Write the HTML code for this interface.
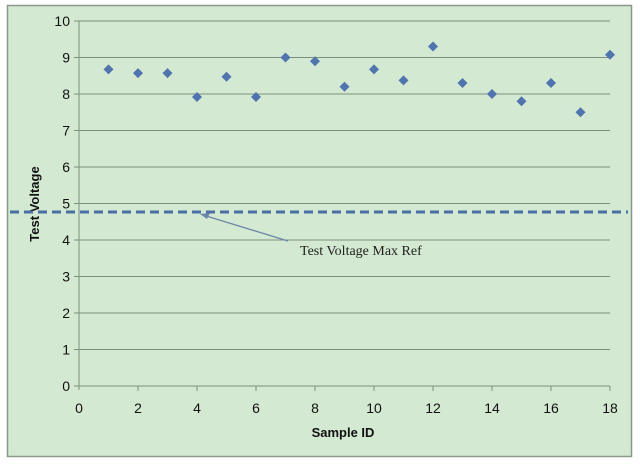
<!DOCTYPE html>
<html><head><style>body{margin:0;background:#fff}</style></head><body>
<svg width="640" height="465" xmlns="http://www.w3.org/2000/svg" font-family="Liberation Sans, sans-serif">
<rect x="0" y="0" width="640" height="465" fill="#fff"/>
<rect x="7.5" y="5.5" width="624" height="451" fill="#d3e9d1" stroke="#8a9a8a" stroke-width="1.5"/>
<g stroke="#7f8f7f" stroke-width="1">
<line x1="79" y1="21" x2="610" y2="21"/><line x1="79" y1="57.5" x2="610" y2="57.5"/><line x1="79" y1="94" x2="610" y2="94"/>
<line x1="79" y1="130.5" x2="610" y2="130.5"/><line x1="79" y1="167" x2="610" y2="167"/><line x1="79" y1="203.5" x2="610" y2="203.5"/>
<line x1="79" y1="240" x2="610" y2="240"/><line x1="79" y1="276.5" x2="610" y2="276.5"/><line x1="79" y1="313" x2="610" y2="313"/>
<line x1="79" y1="349.5" x2="610" y2="349.5"/><line x1="79" y1="386" x2="610" y2="386"/>
<line x1="79" y1="21" x2="79" y2="390"/>
<line x1="74" y1="21" x2="79" y2="21"/><line x1="74" y1="57.5" x2="79" y2="57.5"/><line x1="74" y1="94" x2="79" y2="94"/><line x1="74" y1="130.5" x2="79" y2="130.5"/><line x1="74" y1="167" x2="79" y2="167"/><line x1="74" y1="203.5" x2="79" y2="203.5"/><line x1="74" y1="240" x2="79" y2="240"/><line x1="74" y1="276.5" x2="79" y2="276.5"/><line x1="74" y1="313" x2="79" y2="313"/><line x1="74" y1="349.5" x2="79" y2="349.5"/><line x1="74" y1="386" x2="79" y2="386"/>
<line x1="138" y1="386" x2="138" y2="391"/><line x1="197" y1="386" x2="197" y2="391"/><line x1="256" y1="386" x2="256" y2="391"/><line x1="315" y1="386" x2="315" y2="391"/><line x1="374" y1="386" x2="374" y2="391"/><line x1="433" y1="386" x2="433" y2="391"/><line x1="492" y1="386" x2="492" y2="391"/><line x1="551" y1="386" x2="551" y2="391"/><line x1="610" y1="386" x2="610" y2="391"/>
</g>
<g font-size="14" fill="#111" text-anchor="end">
<text x="70" y="26">10</text><text x="70" y="62.5">9</text><text x="70" y="99">8</text><text x="70" y="135.5">7</text><text x="70" y="172">6</text><text x="70" y="208.5">5</text><text x="70" y="245">4</text><text x="70" y="281.5">3</text><text x="70" y="318">2</text><text x="70" y="354.5">1</text><text x="70" y="391">0</text>
</g>
<g font-size="14" fill="#111" text-anchor="middle">
<text x="79" y="413">0</text><text x="138" y="413">2</text><text x="197" y="413">4</text><text x="256" y="413">6</text><text x="315" y="413">8</text><text x="374" y="413">10</text><text x="433" y="413">12</text><text x="492" y="413">14</text><text x="551" y="413">16</text><text x="610" y="413">18</text>
</g>
<text x="343" y="437" font-size="13" font-weight="bold" text-anchor="middle" fill="#111">Sample ID</text>
<text transform="translate(39,204) rotate(-90)" font-size="13" font-weight="bold" text-anchor="middle" fill="#111">Test Voltage</text>
<line x1="10" y1="212" x2="628" y2="212" stroke="#4a6fa5" stroke-width="3" stroke-dasharray="9,5"/>
<line x1="203" y1="215" x2="288" y2="241" stroke="#6b86a8" stroke-width="1.3"/>
<path d="M200,214 L210,213 L207,219 Z" fill="#6b86a8"/>
<text x="300" y="255" font-family="Liberation Serif, serif" font-size="14" fill="#222">Test Voltage Max Ref</text>
<g fill="#4f74b0">
<path d="M108.5,64.4l5,5-5,5-5-5z"/><path d="M138,68.1l5,5-5,5-5-5z"/><path d="M167.5,68.1l5,5-5,5-5-5z"/><path d="M197,92l5,5-5,5-5-5z"/><path d="M226.5,71.7l5,5-5,5-5-5z"/><path d="M256,92l5,5-5,5-5-5z"/><path d="M285.5,52.5l5,5-5,5-5-5z"/><path d="M315,56.2l5,5-5,5-5-5z"/><path d="M344.5,81.7l5,5-5,5-5-5z"/><path d="M374,64.4l5,5-5,5-5-5z"/><path d="M403.5,75.4l5,5-5,5-5-5z"/><path d="M433,41.5l5,5-5,5-5-5z"/><path d="M462.5,78l5,5-5,5-5-5z"/><path d="M492,89l5,5-5,5-5-5z"/><path d="M521.5,96.3l5,5-5,5-5-5z"/><path d="M551,78l5,5-5,5-5-5z"/><path d="M580.5,107.3l5,5-5,5-5-5z"/><path d="M610,49.8l5,5-5,5-5-5z"/>
</g>
</svg>
</body></html>
